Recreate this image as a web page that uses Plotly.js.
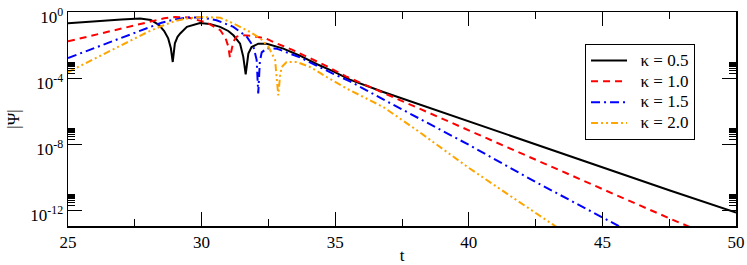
<!DOCTYPE html>
<html>
<head>
<meta charset="utf-8">
<script src="https://cdn.plot.ly/plotly-3.0.1.min.js"></script>
<style>
html,body{margin:0;padding:0;background:#fff;}
#chart{width:747px;height:265px;}
</style>
</head>
<body>
<div id="chart"></div>
<script>
// ---- data: time t and log10|Psi| ----
const t05 = [25, 26, 27, 27.7, 28.1, 28.4, 28.6, 28.75, 28.85, 28.92, 29.0, 29.1, 29.2, 29.45, 29.94, 30.3, 30.69, 31.0, 31.19, 31.44, 31.56, 31.65, 31.75, 31.87, 32.12, 32.44, 33.06, 33.68, 34.3, 34.93, 35.55, 36.8, 38.05, 39.3, 40.0, 42.5, 45.0, 47.5, 50.0];
const lg05 = [-0.68, -0.55, -0.45, -0.40, -0.48, -0.78, -1.15, -1.6, -2.2, -3.03, -1.9, -1.5, -1.3, -0.9, -0.67, -0.72, -0.9, -1.15, -1.41, -1.92, -2.72, -3.78, -2.52, -2.12, -1.92, -1.92, -2.22, -2.65, -3.15, -3.6, -4.1, -4.85, -5.55, -6.25, -6.62, -8.0, -9.42, -10.8, -12.16];

const t10 = [25, 26, 27, 28, 28.6, 29.0, 29.5, 30.2, 30.7, 30.9, 31.0, 31.06, 31.12, 31.19, 31.3, 31.5, 31.9, 32.4, 32.8, 33.4, 34.06, 34.7, 35.4, 36.8, 38.05, 39.17, 40, 42.5, 45, 47.5, 48.4];
const lg10 = [-1.78, -1.39, -1.0, -0.62, -0.38, -0.3, -0.33, -0.65, -1.1, -1.6, -2.1, -2.75, -2.2, -1.8, -1.5, -1.4, -1.45, -1.6, -1.9, -2.3, -2.8, -3.3, -3.9, -4.9, -5.8, -6.6, -7.2, -8.97, -10.73, -12.5, -13.12];

const t15 = [25, 26, 27, 28, 28.5, 29.0, 29.5, 30.0, 30.56, 31.19, 31.69, 31.94, 32.06, 32.12, 32.18, 32.25, 32.44, 32.81, 33.68, 34.93, 35.55, 36.8, 38.05, 40.0, 42.5, 45.0, 45.7];
const lg15 = [-2.79, -2.17, -1.54, -0.93, -0.65, -0.45, -0.33, -0.33, -0.5, -0.9, -1.5, -2.1, -2.9, -4.93, -3.0, -2.45, -2.2, -2.22, -2.75, -3.75, -4.2, -5.3, -6.36, -8.05, -10.3, -12.45, -13.05];

const t20 = [25, 26, 27, 28, 28.5, 29.0, 29.5, 30.0, 30.7, 31.2, 31.8, 32.2, 32.5, 32.75, 32.87, 32.94, 33.0, 33.18, 33.56, 34.06, 34.68, 35.43, 36.8, 38.0, 40.0, 42.5, 43.3];
const lg20 = [-3.64, -2.82, -2.0, -1.2, -0.85, -0.55, -0.38, -0.3, -0.35, -0.7, -1.2, -1.6, -2.1, -2.9, -5.05, -3.8, -3.33, -3.03, -3.03, -3.33, -3.94, -4.64, -5.76, -7.1, -9.45, -12.2, -13.05];

const seriesNames = ["κ = 0.5", "κ = 1.0", "κ = 1.5", "κ = 2.0"];
const xTickVals = [25, 30, 35, 40, 45, 50];
const yTickVals = [1, 1e-4, 1e-8, 1e-12];
const yTickText = ["10<sup>0</sup>", "10<sup>-4</sup>", "10<sup>-8</sup>", "10<sup>-12</sup>"];
const yMinorMult = [2, 3, 4, 5, 6, 7, 8, 9];
const yMinorDecades = [1e-4, 1e-8, 1e-12];

const toVal = a => a.map(v => Math.pow(10, v));
const yMinorVals = [];
yMinorDecades.forEach(d => yMinorMult.forEach(m => yMinorVals.push(m * d)));

const FONT = "'Liberation Serif', 'Times New Roman', 'DejaVu Serif', serif";
const legName = s => '<span style="font-size:17px">\u00a0\u00a0' + s + '</span>';

const traces = [
  {x: t05, y: toVal(lg05), name: legName(seriesNames[0]), mode: "lines", line: {color: "#000000", width: 2}},
  {x: t10, y: toVal(lg10), name: legName(seriesNames[1]), mode: "lines", line: {color: "#ff0000", width: 2, dash: "7px,5px"}},
  {x: t15, y: toVal(lg15), name: legName(seriesNames[2]), mode: "lines", line: {color: "#0000ff", width: 2, dash: "9px,4px,2px,4px"}},
  {x: t20, y: toVal(lg20), name: legName(seriesNames[3]), mode: "lines", line: {color: "#ffa500", width: 2, dash: "7px,3px,2px,3px,2px,3px"}}
];

const layout = {
  width: 747, height: 265,
  margin: {l: 68, r: 11, t: 12, b: 39},
  paper_bgcolor: "#ffffff", plot_bgcolor: "#ffffff",
  font: {family: FONT, size: 17, color: "#000"},
  showlegend: true,
  legend: {
    x: 0.774, y: 0.85, xanchor: "left", yanchor: "top",
    bgcolor: "#ffffff", bordercolor: "#000", borderwidth: 1,
    font: {family: FONT, size: 13.7, color: "#000"},
    itemwidth: 36
  },
  xaxis: {
    type: "linear", range: [25, 50],
    tickmode: "array", tickvals: xTickVals,
    ticks: "inside", ticklen: 14, tickwidth: 1, tickcolor: "#000",
    minor: {tickmode: "linear", tick0: 25, dtick: 2.5, ticks: "inside", ticklen: 7, tickwidth: 1, tickcolor: "#000", showgrid: false},
    showline: true, linecolor: "#000", linewidth: 1.5, mirror: "allticks",
    showgrid: false, zeroline: false,
    tickfont: {family: FONT, size: 17, color: "#000"},
    title: {text: "t", font: {family: FONT, size: 17, color: "#000"}, standoff: 4}
  },
  yaxis: {
    type: "log", range: [-12.97, 0],
    tickmode: "array", tickvals: yTickVals, ticktext: yTickText,
    ticks: "inside", ticklen: 14, tickwidth: 1, tickcolor: "#000",
    minor: {tickmode: "array", tickvals: yMinorVals, ticks: "inside", ticklen: 7, tickwidth: 1, tickcolor: "#000", showgrid: false},
    showline: true, linecolor: "#000", linewidth: 1.5, mirror: "allticks",
    showgrid: false, zeroline: false,
    tickfont: {family: FONT, size: 17, color: "#000"},
    ticklabelshift: 5,
    title: {text: "|Ψ|", font: {family: FONT, size: 17, color: "#000"}, standoff: 6}
  }
};

Plotly.newPlot("chart", traces, layout, {displayModeBar: false, staticPlot: true});
</script>
</body>
</html>
